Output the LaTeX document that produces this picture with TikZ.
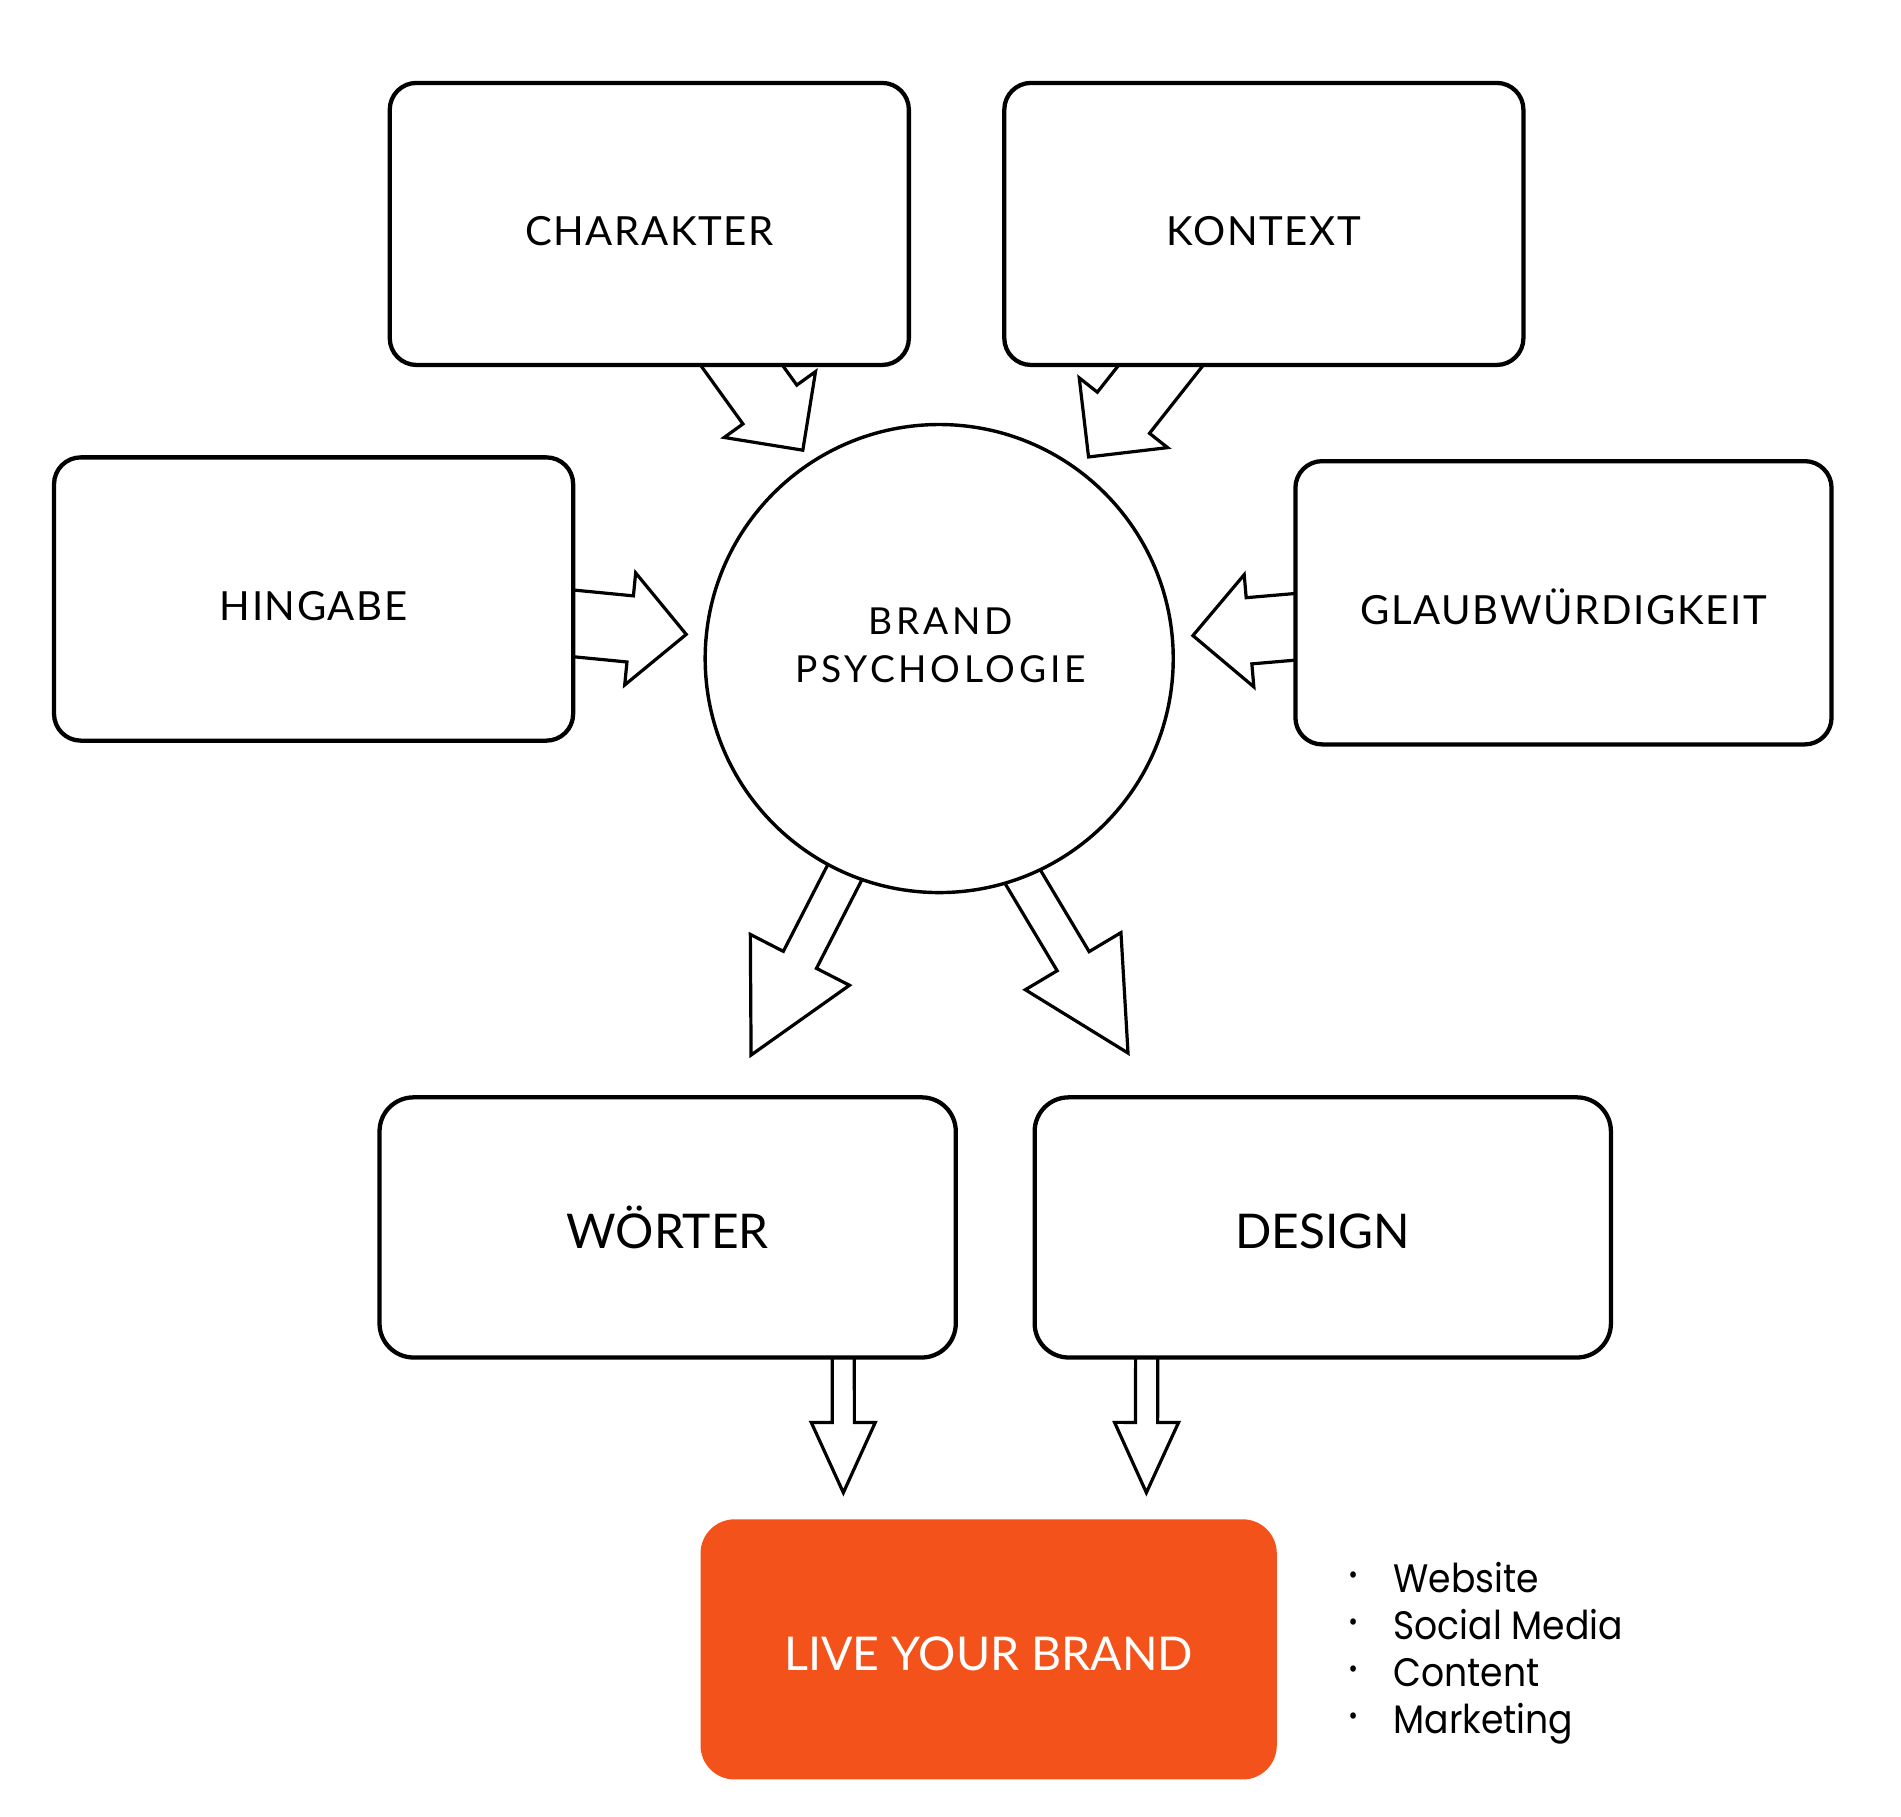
\documentclass[tikz,border=0pt]{standalone}
\usepackage{fontspec}
\setmainfont{Lato}
\newfontfamily\listfont{Poppins}[FakeStretch=0.91]
\usetikzlibrary{shapes.arrows,calc,backgrounds}
\definecolor{brandorange}{RGB}{243,83,26}

\tikzset{
    topbox/.style={draw, line width=1pt, rounded corners=0.22cm, fill=white,
        minimum width=4.27cm, minimum height=2.32cm, inner sep=0pt,
        text height=1em, text depth=0pt,
        font=\fontsize{9.4}{11}\selectfont\addfontfeatures{LetterSpace=4}},
    lowbox/.style={draw, line width=1pt, rounded corners=0.28cm, fill=white,
        minimum width=4.74cm, minimum height=2.14cm, inner sep=0pt,
        text height=1em, text depth=0pt, font=\fontsize{11.2}{13}\selectfont},
    livebox/.style={lowbox, draw=none, fill=brandorange, text=white,
        font=\fontsize{10.9}{13}\selectfont},
    bigarrow/.style={single arrow, draw, fill=white, line width=0.75pt,
        inner xsep=0pt, inner ysep=0.26cm,
        sloped, allow upside down, anchor=tail, pos=0,
        single arrow head extend=0.19cm, single arrow tip angle=90},
    downarrow/.style={bigarrow, inner ysep=0.14cm,
        single arrow head extend=0.305cm, single arrow tip angle=55},
    smallarrow/.style={bigarrow, inner ysep=0.078cm,
        single arrow head extend=0.172cm, single arrow tip angle=49}
}

% block arrow from one coordinate to another
\newcommand\blockarrow[4][bigarrow]{%
    \path let \p1=($(#4)-(#3)$), \n1={veclen(\x1,\y1)} in
        (#3) -- node[#1, minimum height=\n1] (#2) {} (#4);}
\newcommand\dotmark{{\fontsize{12}{11}\selectfont·}}

\begin{document}
\begin{tikzpicture}[x=0.01cm, y=-0.01cm]
    \useasboundingbox (0,0) rectangle (1564.6,1494.7);

    \node[topbox] (charakter) at (534.4,184.3) {CHARAKTER};
    \node[topbox] (kontext) at (1040.2,184.3) {KONTEXT};
    \node[topbox, minimum height=2.33cm] (hingabe) at (258.1,493) {HINGABE};
    \node[topbox, minimum width=4.41cm, minimum height=2.33cm] (glaub) at (1286.8,496.1) {GLAUBWÜRDIGKEIT};

    \node[circle, draw, fill=white, line width=0.8pt, minimum size=3.85cm, inner sep=0pt] (brand) at (773,542) {};
    \node[align=center, inner sep=0pt, font=\fontsize{8.7}{11.3}\selectfont\addfontfeatures{LetterSpace=10}] (brandtext) at (774,531) {BRAND\\PSYCHOLOGIE};

    \node[lowbox] (woerter) at (549.5,1010.2) {WÖRTER};
    \node[lowbox] (design) at (1088.7,1010.2) {DESIGN};
    \node[livebox] (live) at (813.7,1357.5) {LIVE YOUR BRAND};

    \node[anchor=base west, inner sep=0pt, font=\listfont\fontsize{9.3}{11}\selectfont] (channels) at (1109,1310.8)
        {\begin{tabular}[t]{@{}l@{\hspace{0.29cm}}l@{}}
            \dotmark & Website\\
            \dotmark & Social Media\\
            \dotmark & Content\\
            \dotmark & Marketing
        \end{tabular}};

    % ends of the arrows
    \coordinate (t1) at ($(hingabe.east)+(-9.3,19.3)$);
    \coordinate (h1) at ($(brand.west)+(-15.5,-20)$);
    \coordinate (t2) at ($(glaub.west)+(9.6,19.1)$);
    \coordinate (h2) at ($(brand.east)+(16.1,-19)$);
    \coordinate (t3) at ($(charakter.south)+(54.8,-30.8)$);
    \coordinate (h3) at ($(brand.north)+(-113,21.5)$);
    \coordinate (t4) at ($(kontext.south)+(-61.7,-30.7)$);
    \coordinate (h4) at ($(brand.north)+(123.7,27.1)$);
    \coordinate (t5) at ($(brand.south)+(-71.8,-29.6)$);
    \coordinate (h5) at ($(woerter.north)+(69.2,-34.1)$);
    \coordinate (t6) at ($(brand.south)+(61.7,-26.2)$);
    \coordinate (h6) at ($(design.north)+(-160.9,-35.7)$);
    \coordinate (t7) at ($(woerter.south)+(144.5,-12)$);
    \coordinate (h7) at ($(live.north)+(-119.6,-21.5)$);
    \coordinate (t8) at ($(design.south)+(-144.9,-12)$);
    \coordinate (h8) at ($(live.north)+(129.8,-21.5)$);

    \begin{scope}[on background layer]
        \blockarrow{a1}{t1}{h1}
        \blockarrow{a2}{t2}{h2}
        \blockarrow{a3}{t3}{h3}
        \blockarrow{a4}{t4}{h4}
        \blockarrow[downarrow]{a5}{t5}{h5}
        \blockarrow[downarrow]{a6}{t6}{h6}
        \blockarrow[smallarrow]{a7}{t7}{h7}
        \blockarrow[smallarrow]{a8}{t8}{h8}
    \end{scope}
\end{tikzpicture}
\end{document}
